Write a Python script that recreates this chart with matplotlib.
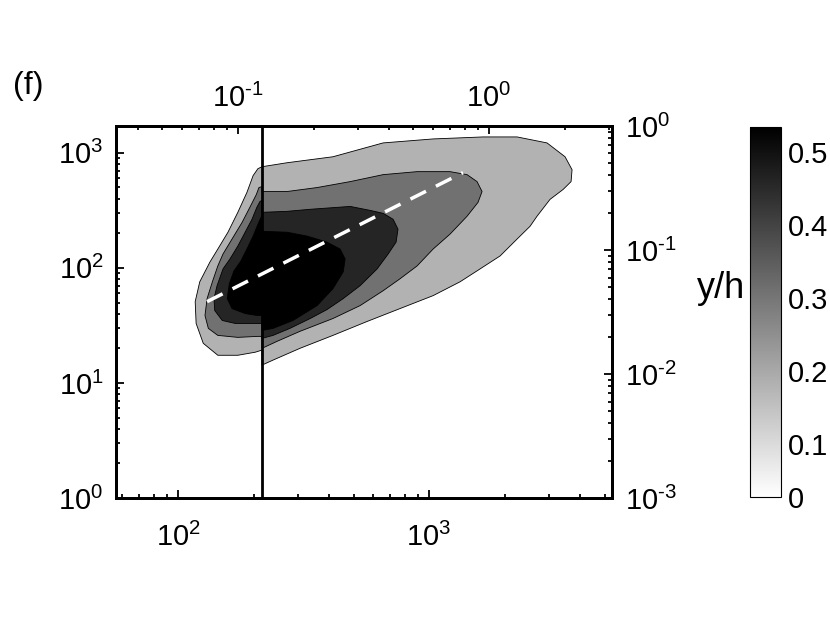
import numpy as np
import matplotlib.pyplot as plt
from matplotlib import colors, cm
from matplotlib.ticker import FuncFormatter

plt.rcParams['font.family'] = ['Liberation Sans', 'DejaVu Sans']
plt.rcParams['mathtext.fontset'] = 'custom'
plt.rcParams['mathtext.rm'] = 'Liberation Sans'
plt.rcParams['mathtext.it'] = 'Liberation Sans:italic'

# ----------------------------------------------------------
# Data (lambda_x+, y+)
# ----------------------------------------------------------
x_cut = 216

# outer level (lightest)
light_x = [216, 272, 414, 656, 1038, 1641, 2242, 2951, 3482, 3713, 3679, 3419,
           3034, 2692, 2526, 2242, 1919, 1597, 1329, 1038, 766, 566, 414, 306,
           239, 216, 216, 203, 173, 144, 126, 118, 117, 122, 134, 144, 158, 173,
           188, 199, 208]
light_y = [757, 820, 924, 1219, 1320, 1374, 1374, 1219, 924, 713, 562, 480,
           394, 281, 230, 178, 127, 98, 75.7, 57.4, 44.3, 34.2, 25.9, 20.0,
           15.8, 14.3, 19.3, 18.5, 17.4, 17.4, 22.1, 32.9, 50.9, 75.7, 112.6,
           145.8, 204, 304, 452, 633, 728]

mid_x = [216, 272, 358, 485, 656, 896, 1212, 1417, 1553, 1626, 1567, 1417,
         1212, 1038, 896, 766, 656, 531, 414, 306, 248, 216, 216, 208, 173, 144,
         132, 128, 130.5, 137, 144, 151, 164, 180, 194, 205, 210, 216]
mid_y = [461, 461, 499, 562, 646, 686, 686, 646, 562, 461, 371, 281,
         196.5, 145.8, 104, 80.4, 63.3, 47.0, 36.3, 28.1, 23.0, 20.0, 25.4, 25.4,
         24.9, 25.9, 29.8, 38.6, 54.1, 75.7, 104, 132, 178, 249, 342, 434, 499, 509]

dark_x = [216, 272, 336, 485, 582, 656, 719, 752, 739, 687, 621, 531, 455, 392,
          336, 279, 239, 216, 216, 206, 169, 150, 140, 139, 143, 151, 161, 173,
          185, 197, 206, 212, 216]
dark_y = [304, 310, 323, 342, 316, 298, 264.5, 217, 167.5, 132, 98, 70, 54.1,
          43.4, 36.3, 29.8, 25.9, 24.4, 32.9, 32.9, 32.9, 34.9, 42.6, 54.1, 70,
          98, 119.6, 154.8, 204, 264.5, 336, 378, 386]

core_x = [216, 272, 326.5, 392, 442, 463, 455, 414, 358, 287, 239, 216, 216,
          206, 185, 164, 157, 160, 167, 178, 188, 199, 208, 214, 216]
core_y = [208, 204, 189, 167.5, 145.8, 119.6, 92.4, 65.9, 47.0, 34.9, 29.8,
          28.6, 38.6, 38.6, 40.1, 44.3, 54.1, 72.8, 94.2, 114.9, 145.8, 188.7,
          239, 275, 281]

level_values = [0.18, 0.31, 0.46, 0.534]

# dashed ridge line
ridge_x = [130.5, 1365]
ridge_y = [50.9, 673]

cbar_ticks = [0.027, 0.1, 0.2, 0.3, 0.4, 0.5]
cbar_labels = ['0', '0.1', '0.2', '0.3', '0.4', '0.5']


def pow10(v, pos):
    e = int(round(np.log10(v)))
    s = str(e).replace('-', '\u2010')
    return '$\\mathregular{10^{%s}}$' % s


# ----------------------------------------------------------
# Figure
# ----------------------------------------------------------
fig = plt.figure(figsize=(8.3, 6.23), dpi=100)
ax = fig.add_axes([0.1398, 0.2006, 0.5976, 0.5972])
ax.set_xscale('log')
ax.set_yscale('log')
ax.set_xlim(56.6, 5358)
ax.set_ylim(1.0, 1711)

cmap = plt.get_cmap('gray_r')
norm = colors.Normalize(vmin=0.027, vmax=0.534)

polys = [(light_x, light_y), (mid_x, mid_y), (dark_x, dark_y), (core_x, core_y)]
for (px, py), val in zip(polys, level_values):
    ax.fill(px, py, facecolor=cmap(norm(val)), edgecolor='k', lw=0.6, zorder=2)

ax.axvline(x_cut, color='k', lw=2, zorder=4)
ax.plot(ridge_x, ridge_y, color='white', lw=2.5, dashes=(5, 3.2), zorder=5)

# top / right axes
axt = ax.twiny()
axt.set_xscale('log')
axt.set_xlim(0.03266, 3.09)
axr = ax.twinx()
axr.set_yscale('log')
axr.set_ylim(1e-3, 1)

ax.xaxis.set_major_formatter(FuncFormatter(pow10))
ax.yaxis.set_major_formatter(FuncFormatter(pow10))
axt.xaxis.set_major_formatter(FuncFormatter(pow10))
axr.yaxis.set_major_formatter(FuncFormatter(pow10))

for a in (ax, axt, axr):
    a.tick_params(which='both', direction='in', labelsize=21, width=1.3)
    a.tick_params(which='major', length=6)
    a.tick_params(which='minor', length=3)
    for s in a.spines.values():
        s.set_linewidth(2)
ax.tick_params(axis='x', pad=18)
ax.tick_params(axis='y', pad=9)
axt.tick_params(axis='x', pad=9)
axr.tick_params(axis='y', pad=9)

# colorbar
cax = fig.add_axes([0.9036, 0.2022, 0.0373, 0.594])
cb = fig.colorbar(cm.ScalarMappable(norm=norm, cmap=cmap), cax=cax)
cb.set_ticks(cbar_ticks)
cb.set_ticklabels(cbar_labels)
cb.outline.set_linewidth(0.8)
cax.tick_params(labelsize=21, length=0, pad=5)

fig.text(28 / 830, 1 - 86 / 623, '(f)', fontsize=23, ha='center', va='center')
fig.text(721 / 830, 1 - 288 / 623, 'y/h', fontsize=26, ha='center', va='center')

plt.savefig('out.png', dpi=100)
